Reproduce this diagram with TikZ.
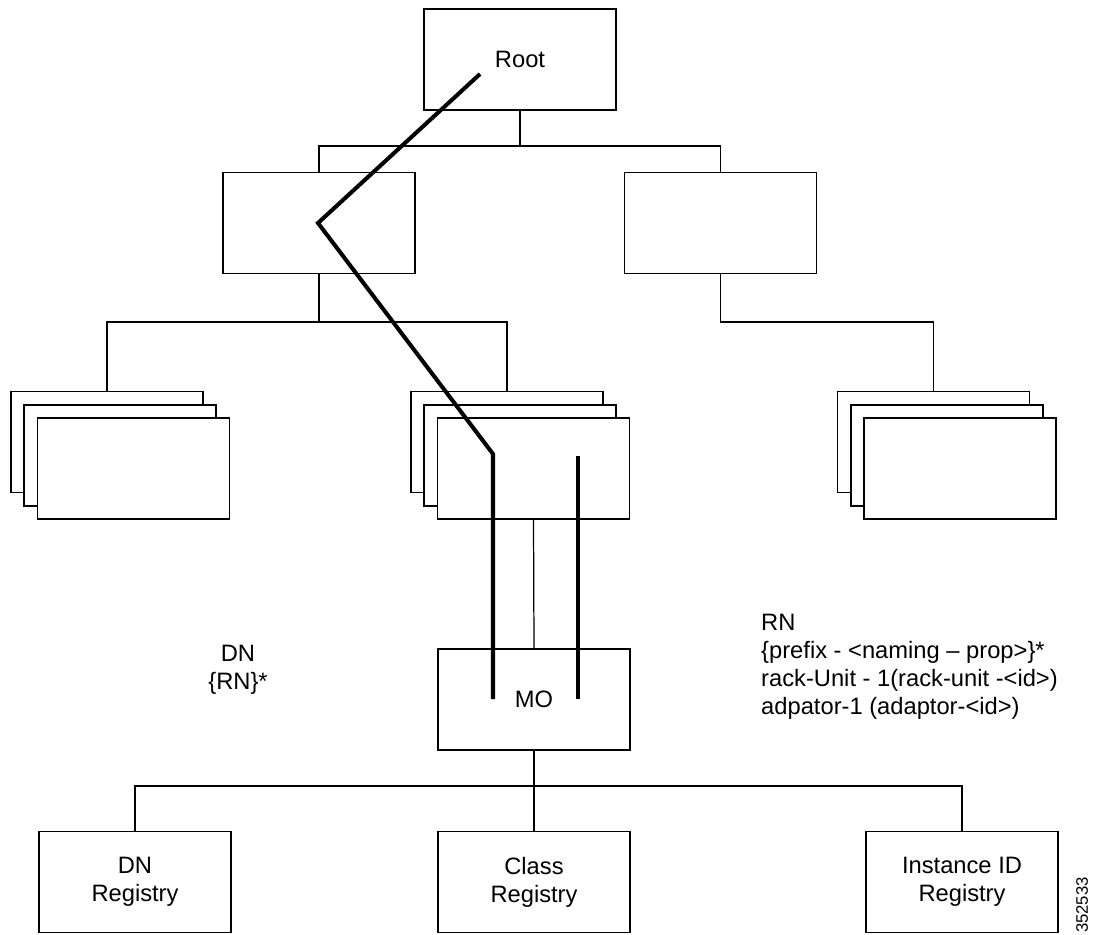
\documentclass[tikz,border=0pt]{standalone}
\usepackage{fontspec}
\setmainfont{Liberation Sans}
\begin{document}
\begin{tikzpicture}[x=0.02cm,y=-0.02cm,
  box/.style={draw, line width=0.7pt, fill=white, minimum width=3.84cm, minimum height=2.02cm, inner sep=0pt, align=center, font=\fontsize{13.5}{16}\selectfont},
  link/.style={line width=0.7pt},
  trail/.style={line width=2.3pt},
  note/.style={font=\fontsize{13.5}{16}\selectfont}]
\useasboundingbox (0,0) rectangle (1095,934);
\node[box] (root) at (520,59.5){Root};
\node[box] (lft) at (319,223){};
\node[box] (rgt) at (720.5,223){};
\coordinate (j0) at (520,146);
\draw[link](root.south) -- (j0);
\draw[link](lft.north) |- (j0) -| (rgt.north);
% left stack
\node[box] (lsb) at (107,442){};
\node[box] (lsm) at (120,455.5){};
\node[box] (lsf) at (133.5,468.5){};
% middle stack
\node[box] (msb) at (507,442){};
\node[box] (msm) at (520,455.5){};
\node[box] (msf) at (533.5,468.5){};
% right stack
\node[box] (rsb) at (933.5,442){};
\node[box] (rsm) at (947,455.5){};
\node[box] (rsf) at (960,468.5){};
\coordinate (j1) at (319,322);
\coordinate (j2) at (720.5,322);
\draw[link](lft.south) -- (j1);
\draw[link](lsb.north) |- (j1) -| (msb.north);
\draw[link](rgt.south) -- (j2) -| (rsb.north);
\node[box] (mo) at (534,699.5){MO};
\draw[link](msf.south) -- (mo.north);
\node[box] (dnreg) at (135,882){DN\\Registry};
\node[box] (clsreg) at (534,882){Class\\Registry};
\node[box] (instreg) at (962,882){Instance ID\\Registry};
\coordinate (j3) at (534,786);
\draw[link](mo.south) -- (clsreg.north);
\draw[link](dnreg.north) |- (j3) -| (instreg.north);
% naming trail
\coordinate (p0) at (480,74);
\coordinate (p1) at (318,223);
\coordinate (p2) at (493,454);
\coordinate (p3) at (493,699);
\coordinate (q0) at (578,456);
\coordinate (q1) at (578,699);
\draw[trail](p0) -- (p1) -- (p2) -- (p3);
\draw[trail](q0) -- (q1);
\node[note, align=center] (dn) at (238,670){DN\\\{RN\}*};
\node[note, align=left, anchor=west] (rn) at (755,667){RN\\\{prefix - <naming – prop>\}*\\rack-Unit - 1(rack-unit -<id>)\\adpator-1 (adaptor-<id>)};
\node[font=\fontsize{9.5}{11}\selectfont, rotate=90] (fig) at (1082,905){352533};
\end{tikzpicture}
\end{document}
